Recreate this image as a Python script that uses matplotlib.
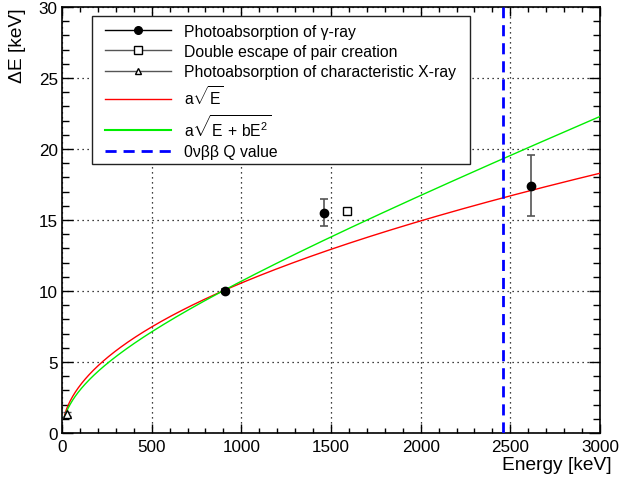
import matplotlib
matplotlib.use("Agg")
import matplotlib.pyplot as plt
import numpy as np
from matplotlib.lines import Line2D
from matplotlib.patches import Rectangle
from matplotlib.ticker import MultipleLocator

plt.rcParams['font.family'] = ['Liberation Sans', 'DejaVu Sans']
plt.rcParams['mathtext.fontset'] = 'custom'
plt.rcParams['mathtext.rm'] = 'Liberation Sans'
plt.rcParams['mathtext.it'] = 'Liberation Sans'

# Data
gamma_E = [911, 1461, 2615]
gamma_dE = [10.0, 15.5, 17.4]
gamma_err = [0.15, 0.95, 2.15]

de_E = [1592]
de_dE = [15.6]
de_err = [0.15]

xray_E = [30]
xray_dE = [1.35]
xray_err = [0.15]

# fit parameters
a_sqrt = 0.334
a_quad = 0.2976
b_quad = 2.9e-4
q_value = 2458

x_ticks = [0, 500, 1000, 1500, 2000, 2500, 3000]
y_ticks = [0, 5, 10, 15, 20, 25, 30]

W, H = 627, 481
fig = plt.figure(figsize=(W/100, H/100), dpi=100)
ax = fig.add_axes([62/W, 1 - 434/H, 538/W, 426/H])

E = np.linspace(15, 3000, 600)
ax.plot(E, a_sqrt*np.sqrt(E), color='#ff0000', lw=1.0, zorder=3)
ax.plot(E, a_quad*np.sqrt(E + b_quad*E**2), color='#00ee00', lw=1.0, zorder=3)
ax.axvline(q_value, color='#0000ff', lw=2.0, ls=(0, (4, 2.5)), zorder=3)

ax.errorbar(gamma_E, gamma_dE, yerr=gamma_err, fmt='o', color='black', ecolor='#555555',
            ms=6, elinewidth=1.2, capsize=3, capthick=1.2, zorder=4)
ax.errorbar(de_E, de_dE, yerr=de_err, fmt='s', mfc='white', mec='black', ecolor='#555555',
            ms=6, mew=1.0, elinewidth=1.2, capsize=3, zorder=4)
ax.errorbar(xray_E, xray_dE, yerr=xray_err, fmt='^', mfc='white', mec='black', ecolor='#555555',
            ms=6, mew=1.0, elinewidth=1.2, capsize=3, zorder=4)

ax.set_xlim(0, 3000)
ax.set_ylim(0, 30)
ax.set_xticks(x_ticks)
ax.set_yticks(y_ticks)
ax.xaxis.set_minor_locator(MultipleLocator(100))
ax.yaxis.set_minor_locator(MultipleLocator(1))
ax.tick_params(which='both', direction='in', top=True, right=True, labelsize=12.3, width=1)
ax.tick_params(axis='x', which='major', length=6.5, pad=4)
ax.tick_params(axis='x', which='minor', length=3.5)
ax.tick_params(axis='y', which='major', length=8, pad=3)
ax.tick_params(axis='y', which='minor', length=5)
ax.grid(True, which='major', color='black', ls=(0, (1, 3)), lw=0.9)
for s in ax.spines.values():
    s.set_linewidth(1.2)

fig.text(612/W, 1 - 466/H, 'Energy [keV]', fontsize=13.8, ha='right', va='center')
fig.text(18/W, 1 - 8/H, 'ΔE [keV]', fontsize=13.8, ha='center', va='top', rotation=90)

# legend box
fig.patches.append(Rectangle((92/W, 1 - 165/H), (470-92)/W, (165-17)/H,
                             transform=fig.transFigure, facecolor='white',
                             edgecolor='#222222', lw=1.0, zorder=5))

handles = [
    Line2D([], [], color='black', lw=1, marker='o', ms=5.5),
    Line2D([], [], color='#555555', lw=1, marker='s', ms=6, mfc='white', mec='black'),
    Line2D([], [], color='#555555', lw=1, marker='^', ms=5, mfc='white', mec='black'),
    Line2D([], [], color='#ff0000', lw=1),
    Line2D([], [], color='#00ee00', lw=1.5),
    Line2D([], [], color='#0000ff', lw=2, ls=(0, (4, 2.5))),
]
labels = [
    'Photoabsorption of γ-ray',
    'Double escape of pair creation',
    'Photoabsorption of characteristic X-ray',
    r'a$\sqrt{\mathrm{E}}$',
    r'a$\sqrt{\mathrm{E\,+\,bE^{2}}}$',
    '0νββ Q value',
]
leg = fig.legend(handles, labels, loc='upper left', bbox_to_anchor=(105/W, 1 - 24.5/H),
                 numpoints=1, fontsize=11.3, handlelength=4.2, handletextpad=0.85,
                 labelspacing=0.34, borderpad=0, frameon=False, borderaxespad=0)
leg.set_zorder(6)

fig.savefig('out.png', dpi=100)
